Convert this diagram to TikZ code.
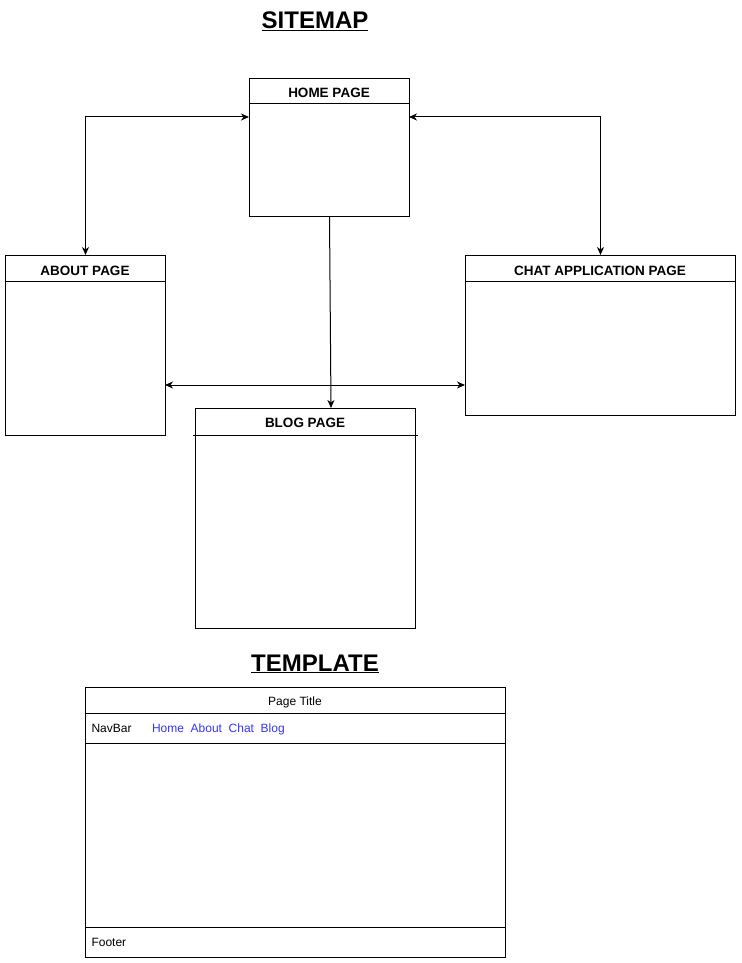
\documentclass[tikz,border=0pt]{standalone}
\usepackage{fontspec}
\setmainfont{Liberation Sans}
\usetikzlibrary{arrows}
\usetikzlibrary{arrows.meta}
\usetikzlibrary{positioning}
\tikzset{pagebox/.style = {draw, anchor = north west, inner sep = 0}}
\tikzset{pagelabel/.style = {anchor = base, font = \fontsize{13.5}{16}\selectfont\bfseries}}
\tikzset{heading/.style = {anchor = base, font = \fontsize{24}{28}\selectfont\bfseries}}
\tikzset{plain/.style = {anchor = base west, inner sep = 0, font = \fontsize{12}{14}\selectfont}}
\definecolor{linkblue}{RGB}{51, 51, 255}

\begin{document}
\begin{tikzpicture}[x = 1pt, y = -1pt, line width = 1pt, >={Stealth[length = 8pt, width = 7pt, inset = 2.5pt]}]
      \useasboundingbox (0, 0) rectangle (741, 963);

      % sitemap
      \node [heading] (sitemap) at (315, 29) {\underline{SITEMAP}};

      \node [pagebox, minimum width = 160, minimum height = 138] (home) at (249, 78) {};
      \node [pagelabel] (homelabel) at (329, 98) {HOME PAGE};
      \draw (249, 104) -- (409, 104);

      \node [pagebox, minimum width = 160, minimum height = 180] (about) at (5, 255) {};
      \node [pagelabel] (aboutlabel) at (85, 275) {ABOUT PAGE};
      \draw (5, 281) -- (165, 281);

      \node [pagebox, minimum width = 270, minimum height = 160] (chat) at (465, 255) {};
      \node [pagelabel] (chatlabel) at (600, 275) {CHAT APPLICATION PAGE};
      \draw (465, 281) -- (735, 281);

      \node [pagebox, minimum width = 220, minimum height = 220] (blog) at (195, 408) {};
      \node [pagelabel] (bloglabel) at (305, 427) {BLOG PAGE};
      \draw (193, 435) -- (418, 435);

      \coordinate (homeL) at (249, 117);
      \coordinate (homeR) at (409, 117);
      \coordinate (blogT) at (331, 408);
      \coordinate (aboutR) at (165, 385);
      \coordinate (chatL) at (465, 385);

      \draw [<->] (homeL) -| (about.north);
      \draw [<->] (homeR) -| (chat.north);
      \draw [->] (home.south) -- (blogT);
      \draw [<->] (aboutR) -- (chatL);

      % template
      \node [heading] (templatetitle) at (315, 671) {\underline{TEMPLATE}};

      \node [pagebox, minimum width = 420, minimum height = 270] (template) at (85, 687) {};
      \draw (85, 713) -- (505, 713);
      \draw (85, 743) -- (505, 743);
      \draw (85, 927) -- (505, 927);

      \node [plain, anchor = base] (pagetitle) at (295, 705) {Page Title};
      \node [plain] (navbar) at (91, 732) {NavBar};
      \node [plain, linkblue] (links) at (151.5, 732) {Home\ \ About\ \ Chat\ \ Blog};
      \node [plain] (footer) at (91, 946) {Footer};
    \end{tikzpicture}
\end{document}
